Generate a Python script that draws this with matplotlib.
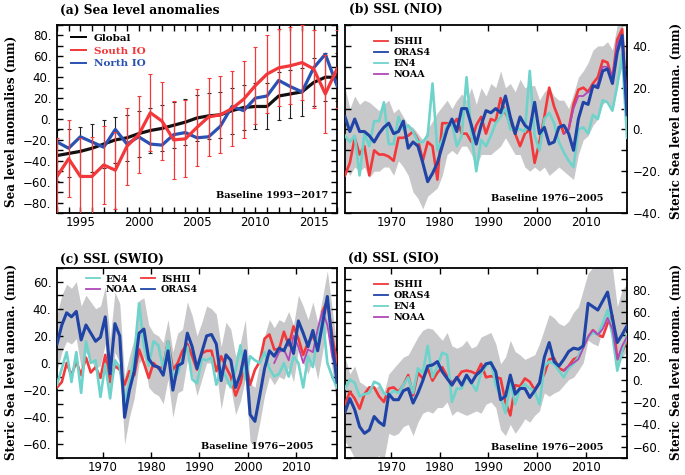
import numpy as np
import matplotlib
matplotlib.use("Agg")
import matplotlib.pyplot as plt
from matplotlib.ticker import MultipleLocator, FuncFormatter
from matplotlib.lines import Line2D

# ---------------- Panel (a): sea level anomalies ----------------
years_a = [1993, 1994, 1995, 1996, 1997, 1998, 1999, 2000, 2001, 2002, 2003, 2004,
           2005, 2006, 2007, 2008, 2009, 2010, 2011, 2012, 2013, 2014, 2015, 2016, 2017]
global_sl = [-35, -33, -31, -28, -24, -20, -18, -14, -11, -9, -6, -3,
             1, 3, 4, 8, 11, 12, 12, 22, 24, 26, 35, 40, 40]
global_err = [24, 23, 23, 23, 23, 22, 22, 22, 22, 22, 22, 22,
              22, 22, 22, 22, 22, 22, 22, 23, 23, 23, 23, 23, 23]
south_io = [-55, -38, -55, -55, -44, -49, -26, -15, 6, -2, -20, -19,
            -8, 2, 4, 10, 19, 32, 43, 49, 51, 54, 48, 24, 48]
south_err = [37, 37, 37, 38, 37, 37, 37, 37, 37, 37, 37, 37,
             37, 37, 37, 36, 37, 37, 37, 37, 37, 36, 37, 37, 37]
north_io = [-22, -28, -17, -22, -27, -10, -24, -17, -24, -25, -15, -13,
            -18, -17, -7, 12, 8, 20, 22, 37, 31, 26, 49, 62, 32]

# ---------------- Steric sea level panels (b)-(d) ----------------
years_s = np.arange(1960.5, 2019.0, 1.0)     # 59 annual values
noaa_start = 45                               # NOAA series begins in 2005

# (b) NIO
nio_ishii = [-22, -16, -4, -12, -8, -22, -10, -12, -12, -13, -15, -4, -4, -3, -1, -5, -15, -6, -8, -24,
             3, 3, 2, 5, -2, -2, -6, 2, 6, -2, 5, 4, 15, 8, 3, -2, -8, -2, 0, -16,
             -6, 6, 20, 11, 5, -2, 0, 12, 19, 20, 18, 22, 25, 33, 32, 24, 43, 48, 6]
nio_oras4 = [6, -1, 5, -1, -1, -3, -6, -2, 1, 3, -2, -1, 4, -9, -6, -8, -16, -25, -21, -16,
             -8, 0, 5, -1, 10, 10, 2, -7, 2, 9, 8, 10, 8, 16, 6, -2, 6, 2, 0, 13,
             -2, 1, -7, -6, 1, 2, -2, -10, 5, 13, 12, 21, 20, 28, 29, 22, 37, 45, 7]
nio_en4 = [-3, -6, -3, -22, -2, -8, 4, 4, 13, -7, -7, 6, 0, 2, -1, -6, -6, -3, 22, -10,
           -5, 2, 3, -8, -3, 25, -2, -20, -5, -8, -3, 3, 6, 10, 0, 1, 0, -1, 28, -3,
           -10, 5, 8, 3, -6, -11, -15, -18, 0, 1, -2, 7, 5, 14, 13, 9, 21, 36, -4]
nio_noaa = [-2, 0, 10, 16, 16, 18, 20, 22, 30, 30, 25, 41, 45, 10]
nio_upper = [20, 10, 16, 12, 14, 13, 11, 9, 12, 14, 8, 10, 6, 2, 1, -2, -5, 0, 4, 8,
             11, 14, 10, 14, 17, 14, 20, 12, 20, 16, 22, 20, 28, 20, 22, 18, 24, 20, 21, 21,
             14, 18, 20, 16, 14, 14, 10, 17, 25, 28, 32, 38, 40, 40, 42, 38, 50, 52, 30]
nio_lower = [-18, -22, -18, -20, -18, -23, -20, -20, -18, -18, -22, -15, -18, -22, -30, -33, -38, -32, -30, -28,
             -22, -12, -10, -12, -8, -8, -12, -18, -12, -12, -12, -10, -8, -4, -8, -12, -12, -18, -20, -18,
             -20, -18, -22, -20, -18, -20, -22, -24, -12, -5, -3, 2, 5, 12, 14, 10, 22, 30, -5]

# (c) SWIO
swio_ishii = [-18, -14, 0, -9, 1, -9, 4, -7, -3, -11, 6, -14, -2, -5, -16, -6, -9, 10, 0, -11,
              0, -4, -3, 16, -5, 0, 9, 14, 5, -5, 7, 9, 9, -6, 5, -3, -10, -24, -15, 0,
              -16, -5, 1, 18, 21, 10, 10, 23, 13, 27, 18, 6, 15, 20, 12, 38, 46, 20, 0]
swio_oras4 = [14, 28, 37, 34, 38, 17, 28, 22, 16, 19, 34, -8, 29, 20, -40, -20, -6, 22, 25, 3,
              -2, -3, -9, 9, -20, -2, 0, 22, 12, -4, 8, 20, 21, 14, -13, 6, 2, -18, -8, 9,
              -38, -43, -24, -4, 9, 5, 11, 9, 17, 7, 31, 22, 12, 24, 9, 29, 49, 15, -14]
swio_en4 = [-16, -4, 8, -14, 8, -22, 16, 0, 2, -25, -1, -26, 2, -3, -30, -14, 5, 44, 13, -2,
            16, 13, -4, 16, -10, -8, 4, 12, -12, -15, 3, 2, 4, -16, -4, -10, -18, -5, 13, -12,
            5, 2, 0, 8, -4, -10, -8, 0, -10, 5, 0, -18, 5, -3, 20, 35, 0, -10, -18]
swio_noaa = [0, 8, 10, 2, 20, 12, 0, 10, 8, 25, 38, 28, 5, -5]
swio_upper = [36, 50, 58, 55, 60, 42, 50, 45, 40, 42, 56, 18, 52, 44, -10, 5, 18, 46, 48, 28,
              22, 20, 15, 32, 8, 22, 25, 45, 35, 20, 30, 42, 40, 36, 12, 30, 25, 5, 15, 32,
              -15, -18, 0, 20, 32, 26, 32, 30, 38, 28, 50, 42, 32, 45, 30, 48, 68, 40, 10]
swio_lower = [-6, 8, 16, 14, 18, -4, 8, 2, -4, -2, 14, -28, 8, 0, -60, -40, -26, 0, 4, -18,
              -22, -24, -30, -12, -40, -22, -20, 2, -8, -24, -12, 0, 0, -6, -34, -15, -18, -38, -28, -12,
              -58, -62, -44, -24, -10, -16, -10, -12, -3, -14, 10, 0, -8, 4, -12, 8, 28, -5, -34]

# (d) SIO
sio_ishii = [-22, -11, -17, -26, -13, -7, -7, -15, -20, -8, -7, -11, -5, 4, -14, 6, 1, 10, -1, 6,
             11, 3, -3, 1, 7, 8, 7, 5, 14, 2, 3, 2, 1, -20, -32, -5, -6, 1, -2, -9,
             -3, 5, 18, 19, 10, 8, 12, 18, 20, 30, 38, 44, 40, 38, 50, 57, 18, 25, 35]
sio_oras4 = [-29, -17, -27, -42, -48, -45, -33, -38, -41, -13, -18, -18, -10, -8, -21, -12, -1, 12, 13, 16,
             7, 1, -5, 2, -5, 4, -3, 4, 8, 14, 15, 7, -18, -15, 4, -13, -8, -8, -16, -10,
             -3, 20, 33, 16, 12, 18, 25, 28, 27, 30, 68, 65, 62, 70, 78, 55, 33, 40, 48]
sio_en4 = [-8, 0, -3, -15, -13, -12, -2, -4, -12, -14, -10, -12, -5, 2, -12, 10, 6, 30, 2, 12,
           24, 22, -20, -8, -8, 3, -3, -10, 6, 12, 16, -5, -15, -30, -2, -22, -8, -4, -8, -10,
           -22, 12, 16, 14, 8, 2, 10, 14, 20, 32, 38, 42, 40, 50, 62, 40, 8, 25, 40]
sio_noaa = [8, 12, 15, 18, 28, 38, 44, 40, 45, 55, 45, 18, 30, 38]
sio_upper = [20, 5, 12, -2, -5, -8, -8, -5, -12, 5, 10, 15, 20, 22, 30, 38, 44, 46, 45, 40,
             35, 42, 30, 28, 30, 35, 28, 30, 38, 40, 42, 32, 14, 20, 35, 25, 22, 18, 20, 22,
             32, 45, 58, 55, 50, 48, 52, 60, 65, 80, 95, 100, 100, 100, 105, 100, 65, 80, 85]
sio_lower = [-55, -62, -70, -72, -72, -72, -70, -68, -72, -48, -50, -48, -42, -40, -50, -38, -30, -28, -30, -25,
             -25, -20, -32, -28, -30, -32, -30, -28, -30, -22, -20, -25, -45, -50, -40, -48, -42, -35, -38, -32,
             -28, -12, -15, -12, -10, -5, 0, 2, 8, 15, 35, 32, 30, 45, 52, 35, 10, 20, 25]

# ---------------- styling ----------------
RED = '#f2383a'
BLUE_A = '#2a52b2'
C_ORAS = '#1f44a6'
C_EN4 = '#6ed3cb'
C_NOAA = '#b048b8'
C_ISHII = '#f2383a'
GREY = '#c8c8ca'
SERIF = 'DejaVu Serif'

plt.rcParams['font.family'] = ['DejaVu Sans']

fig = plt.figure(figsize=(6.85, 4.75), dpi=100)
W, H = 685.0, 475.0


def add_ax(x0, x1, y0, y1):
    return fig.add_axes([x0 / W, 1 - y1 / H, (x1 - x0) / W, (y1 - y0) / H])


def tickfmt(v, pos):
    s = f"{int(round(v))}."
    return s.replace('-', '\u2212')


def style(ax, xlim, ylim, xmaj, xmin, ymaj, ymin, side):
    ax.set_xlim(*xlim)
    ax.set_ylim(*ylim)
    ax.xaxis.set_major_locator(MultipleLocator(xmaj))
    if xmin:
        ax.xaxis.set_minor_locator(MultipleLocator(xmin))
    ax.yaxis.set_major_locator(MultipleLocator(ymaj))
    ax.yaxis.set_minor_locator(MultipleLocator(ymin))
    ax.yaxis.set_major_formatter(FuncFormatter(tickfmt))
    ax.tick_params(which='both', direction='in', top=True, bottom=True,
                   left=True, right=True, width=1.0, colors='black')
    ax.tick_params(which='major', length=4.5, pad=4, labelsize=8.5)
    ax.tick_params(axis='x', which='major', pad=2.2)
    ax.tick_params(which='minor', length=4.0)
    if side == 'right':
        ax.tick_params(axis='y', labelleft=False, labelright=True)
    for s in ax.spines.values():
        s.set_linewidth(1.3)


def baseline(ax, text, x, y):
    ax.text(x, y, text, transform=ax.transAxes, ha='right', va='center',
            fontfamily=SERIF, fontweight='bold', fontsize=7, zorder=10)


# ---- (a)
axa = add_ax(57, 337, 25, 213)
axa.errorbar(years_a, global_sl, yerr=global_err, fmt='none', ecolor='#222222',
             elinewidth=0.8, capsize=1.6, capthick=0.8, zorder=2)
axa.plot(years_a, global_sl, color='#111111', lw=2.3, zorder=3)
axa.plot(years_a, north_io, color=BLUE_A, lw=2.3, zorder=4)
axa.plot(years_a, south_io, color=RED, lw=2.3, zorder=5)
axa.errorbar(years_a, south_io, yerr=south_err, fmt='none', ecolor=RED,
             elinewidth=0.9, capsize=1.6, capthick=0.8, zorder=6)
style(axa, (1993, 2017), (-90, 90), 5, 1, 20, 10, 'left')
ha = [Line2D([], [], color='black', lw=1.4), Line2D([], [], color=RED, lw=1.4),
      Line2D([], [], color=BLUE_A, lw=1.4)]
lga = axa.legend(ha, ['Global', 'South IO', 'North IO'], loc='upper left',
                 bbox_to_anchor=(0.02, 1.0), frameon=False, handlelength=1.4,
                 handletextpad=0.8, labelspacing=0.35, borderpad=0.3,
                 prop={'family': SERIF, 'weight': 'bold', 'size': 7.5})
for t, c in zip(lga.get_texts(), ['black', RED, BLUE_A]):
    t.set_color(c)
baseline(axa, 'Baseline 1993\u22122017', 0.97, 0.095)
fig.text(60 / W, 1 - 10 / H, '(a) Sea level anomalies', fontfamily=SERIF,
         fontweight='bold', fontsize=8.8, va='center', ha='left')
fig.text(11 / W, 1 - 121 / H, 'Sea level anomalies (mm)', fontfamily=SERIF,
         fontweight='bold', fontsize=8.6, rotation=90, va='center', ha='center')


def steric(ax, ishii, oras4, en4, noaa, upper, lower):
    ax.fill_between(years_s, lower, upper, color=GREY, lw=0, zorder=1)
    ax.plot(years_s, ishii, color=C_ISHII, lw=1.9, zorder=3)
    ax.plot(years_s, en4, color=C_EN4, lw=1.9, zorder=4)
    ax.plot(years_s[noaa_start:], noaa, color=C_NOAA, lw=1.3, zorder=5)
    ax.plot(years_s, oras4, color=C_ORAS, lw=2.2, zorder=6)


def leg4(ax, names, colors, ncol=1, anchor=(0.08, 0.97)):
    hs = [Line2D([], [], color=c, lw=1.3) for c in colors]
    ax.legend(hs, names, loc='upper left', bbox_to_anchor=anchor, frameon=False,
              ncol=ncol, handlelength=1.5, handletextpad=0.6, labelspacing=0.2,
              columnspacing=0.4, borderpad=0.2,
              prop={'family': SERIF, 'weight': 'bold', 'size': 6.8})


XL = (years_s[0], years_s[-1])

# ---- (b)
axb = add_ax(345, 627, 25, 213)
steric(axb, nio_ishii, nio_oras4, nio_en4, nio_noaa, nio_upper, nio_lower)
style(axb, XL, (-40, 50), 10, None, 20, 10, 'right')
leg4(axb, ['ISHII', 'ORAS4', 'EN4', 'NOAA'], [C_ISHII, C_ORAS, C_EN4, C_NOAA])
baseline(axb, 'Baseline 1976\u22122005', 0.915, 0.075)
fig.text(349 / W, 1 - 9 / H, '(b) SSL (NIO)', fontfamily=SERIF,
         fontweight='bold', fontsize=8.8, va='center', ha='left')
fig.text(676 / W, 1 - 121 / H, 'Steric Sea level anoma. (mm)', fontfamily=SERIF,
         fontweight='bold', fontsize=8.6, rotation=90, va='center', ha='center')

# ---- (c)
axc = add_ax(57, 337, 268, 458)
steric(axc, swio_ishii, swio_oras4, swio_en4, swio_noaa, swio_upper, swio_lower)
style(axc, XL, (-70, 70), 10, None, 20, 10, 'left')
leg4(axc, ['EN4', 'NOAA', 'ISHII', 'ORAS4'], [C_EN4, C_NOAA, C_ISHII, C_ORAS],
     ncol=2, anchor=(0.08, 1.0))
baseline(axc, 'Baseline 1976\u22122005', 0.915, 0.06)
fig.text(60 / W, 1 - 259 / H, '(c) SSL (SWIO)', fontfamily=SERIF,
         fontweight='bold', fontsize=8.8, va='center', ha='left')
fig.text(11 / W, 1 - 362 / H, 'Steric Sea level anoma. (mm)', fontfamily=SERIF,
         fontweight='bold', fontsize=8.6, rotation=90, va='center', ha='center')

# ---- (d)
axd = add_ax(345, 627, 268, 458)
steric(axd, sio_ishii, sio_oras4, sio_en4, sio_noaa, sio_upper, sio_lower)
style(axd, XL, (-70, 99.5), 10, None, 20, 10, 'right')
leg4(axd, ['ISHII', 'ORAS4', 'EN4', 'NOAA'], [C_ISHII, C_ORAS, C_EN4, C_NOAA])
baseline(axd, 'Baseline 1976\u22122005', 0.915, 0.055)
fig.text(348 / W, 1 - 258 / H, '(d) SSL (SIO)', fontfamily=SERIF,
         fontweight='bold', fontsize=8.8, va='center', ha='left')
fig.text(676 / W, 1 - 362 / H, 'Steric Sea level anoma. (mm)', fontfamily=SERIF,
         fontweight='bold', fontsize=8.6, rotation=90, va='center', ha='center')

fig.savefig('out.png', dpi=100)
